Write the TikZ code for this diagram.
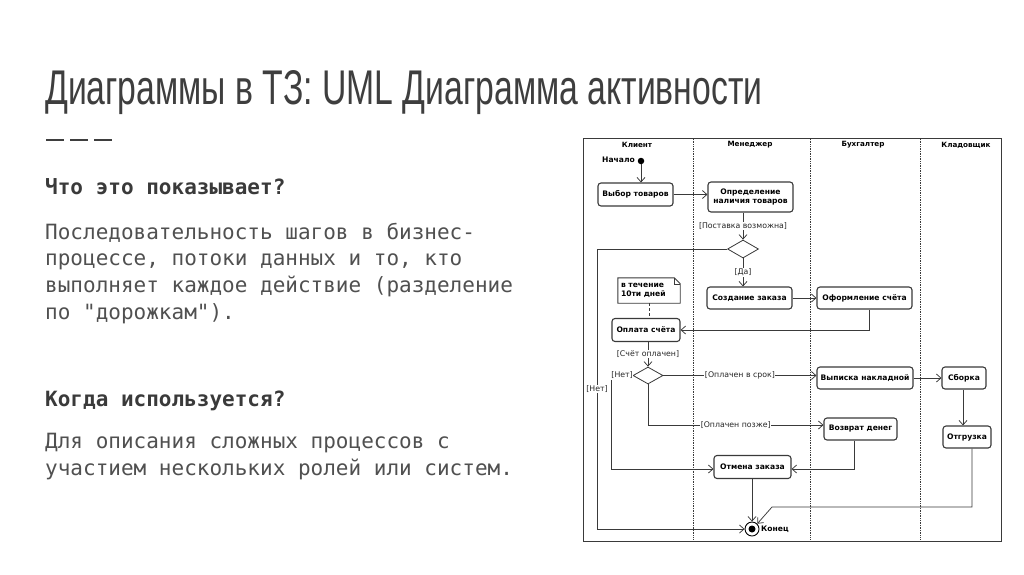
\documentclass[tikz,border=0pt]{standalone}
\usepackage{fontspec}
\usepackage{graphicx}
\setmainfont{DejaVu Sans}
\newfontfamily\monofont{DejaVu Sans Mono}
\newfontfamily\titlefont{Liberation Sans}
\newfontfamily\diafont{DejaVu Sans}
\usetikzlibrary{arrows.meta,shapes.geometric,calc}
\definecolor{dgray}{HTML}{3A3A3A}
\definecolor{titlec}{HTML}{3E3E3E}
\definecolor{bodyc}{HTML}{505050}
\definecolor{headc}{HTML}{3A3A3A}
\begin{document}
\begin{tikzpicture}[x=1pt,y=-1pt,
  act/.style={draw=dgray, line width=1.1pt, rounded corners=3pt, fill=white,
    font=\diafont\bfseries\fontsize{7.6}{9}\selectfont, align=center, inner sep=1pt},
  lbl/.style={fill=white, inner sep=0.6pt, font=\diafont\fontsize{7.8}{9}\selectfont, text=black!85},
  flow/.style={draw=dgray, line width=0.75pt, -{Straight Barb[length=4.5pt,width=8pt]}},
  dia/.style={diamond, draw=dgray, line width=0.8pt, fill=white, inner sep=0pt,
    minimum width=31pt, minimum height=18pt},
  lane/.style={draw=dgray, densely dotted, line width=0.7pt},
  hdr/.style={font=\diafont\bfseries\fontsize{7.2}{9}\selectfont, inner sep=0},
  bodyline/.style={anchor=base west, inner sep=0, text=bodyc,
    font=\monofont\fontsize{21}{26.7}\selectfont},
  headline/.style={anchor=base west, inner sep=0, text=headc,
    font=\monofont\bfseries\fontsize{21}{26.7}\selectfont},
]
\useasboundingbox (0,0) rectangle (1024,574);
\fill[white] (0,0) rectangle (1024,574);

% ---------- left text ----------
\node[anchor=base west, inner sep=0, text=titlec] (title) at (45,104)
  {\resizebox{717pt}{34pt}{\titlefont Диаграммы в ТЗ: UML Диаграмма активности}};
\draw[titlec, line width=2pt] (46,140) -- (64,140) (70,140) -- (88,140) (94,140) -- (112,140);

\node[headline] (h1) at (45,194) {Что это показывает?};
\node[bodyline] (p1a) at (45,239) {Последовательность шагов в бизнес-};
\node[bodyline] (p1b) at (45,265.7) {процессе, потоки данных и то, кто};
\node[bodyline] (p1c) at (45,292.3) {выполняет каждое действие (разделение};
\node[bodyline] (p1d) at (45,319) {по "дорожкам").};
\node[headline] (h2) at (45,406) {Когда используется?};
\node[bodyline] (p2a) at (45,448) {Для описания сложных процессов с};
\node[bodyline] (p2b) at (45,475) {участием нескольких ролей или систем.};

% ---------- diagram frame ----------
\draw[dgray, line width=1pt] (583,138) rectangle (1001,541);
\draw[lane] (693,139) -- (693,540);
\draw[lane] (810,139) -- (810,540);
\draw[lane] (920,139) -- (920,540);
\node[hdr] (hk) at (637,145) {Клиент};
\node[hdr] (hm) at (750,145) {Менеджер};
\node[hdr] (hb) at (863,145) {Бухгалтер};
\node[hdr] (hs) at (966,145) {Кладовщик};

% ---------- nodes ----------
\node[circle, fill=black, inner sep=0, minimum size=6.5pt] (start) at (641,161) {};
\node[anchor=east, inner sep=0, font=\diafont\bfseries\fontsize{7.6}{9}\selectfont] (startlbl) at (635,160) {Начало};

\node[act, minimum width=75pt, minimum height=23pt] (vybor) at (635.5,194.5) {Выбор товаров};
\node[act, minimum width=85pt, minimum height=30pt] (opred) at (750.5,197) {Определение\\наличия товаров};
\node[dia] (d1) at (743,249) {};
\node[act, minimum width=85pt, minimum height=22pt] (sozd) at (749.5,298) {Создание заказа};
\node[act, minimum width=95pt, minimum height=22pt] (oform) at (864.5,298) {Оформление счёта};
\node[act, minimum width=68pt, minimum height=23pt] (oplata) at (646,330) {Оплата счёта};
\node[dia, minimum width=30pt, minimum height=17pt] (d2) at (648,375.5) {};
\node[act, minimum width=96pt, minimum height=22pt] (vypiska) at (865,378) {Выписка накладной};
\node[act, minimum width=44pt, minimum height=22pt] (sborka) at (964,378) {Сборка};
\node[act, minimum width=73pt, minimum height=22pt] (vozvrat) at (860.5,429) {Возврат денег};
\node[act, minimum width=48pt, minimum height=22pt] (otgruzka) at (967,437) {Отгрузка};
\node[act, minimum width=77pt, minimum height=23pt] (otmena) at (752.5,467) {Отмена заказа};

\node[circle, draw=black, line width=0.9pt, fill=white, minimum size=14pt, inner sep=0] (end) at (752,529) {};
\node[circle, fill=black, minimum size=7pt, inner sep=0] (endin) at (end) {};
\node[anchor=west, inner sep=0, font=\diafont\bfseries\fontsize{7.6}{9}\selectfont] (endlbl) at (761,529) {Конец};

% note
\node[align=left, inner sep=0, font=\diafont\bfseries\fontsize{7.6}{9}\selectfont,
      minimum width=62pt, minimum height=25pt, text width=56pt] (note) at (649,290.5)
  {в течение\\10ти дней};
\draw[dgray, line width=0.9pt] (note.north west) -- ([xshift=-6pt]note.north east)
  -- ([yshift=-6pt]note.north east) -- (note.south east) -- (note.south west) -- cycle;
\draw[dgray, line width=0.6pt] ([xshift=-6pt]note.north east) -- ([xshift=-6pt,yshift=-6pt]note.north east)
  -- ([yshift=-6pt]note.north east);

% ---------- connectors ----------
\draw[flow] (start) -- (start |- vybor.north);
\draw[flow] (vybor.east) -- (vybor.east -| opred.west);
\draw[flow] (opred.south -| d1.north) -- node[lbl]{[Поставка возможна]} (d1.north);
\draw[flow] (d1.south) -- node[lbl]{[Да]} (d1.south |- sozd.north);
\draw[flow] (sozd.east) -- (oform.west);
\draw[flow] ([xshift=4.5pt]oform.south) |- (oplata.east);
\draw[dgray, line width=0.7pt, densely dashed] (note.south) -- (note.south |- oplata.north);
\draw[flow] (oplata.south -| d2.north) -- node[lbl]{[Счёт оплачен]} (d2.north);
\draw[flow] (d2.west) -- node[lbl, pos=0.5]{[Нет]} ++(-21,0) |- ([yshift=-2pt]otmena.west);
\draw[flow] (d2.east) -- node[lbl]{[Оплачен в срок]} (d2.east -| vypiska.west);
\draw[flow] (vypiska.east) -- (sborka.west);
\draw[flow] ([xshift=-1pt]sborka.south) -- ([xshift=-1pt]sborka.south |- otgruzka.north);
\draw[flow] (d2.south) |- node[lbl, pos=0.75]{[Оплачен позже]} ([yshift=4pt]vozvrat.west);
\draw[flow] ([xshift=-6.5pt]vozvrat.south) |- ([yshift=-2pt]otmena.east);
\draw[flow] (otmena.south -| end.north) -- (end.north);
\coordinate (bendA) at (772,507);
\draw[flow] ([xshift=5pt]otgruzka.south) |- (bendA) -- (end.north east);
\coordinate (nA) at (597,249);
\draw[flow] (d1.west) -- (nA) |- node[lbl, pos=0.25]{[Нет]} (end.west);
\end{tikzpicture}
\end{document}
